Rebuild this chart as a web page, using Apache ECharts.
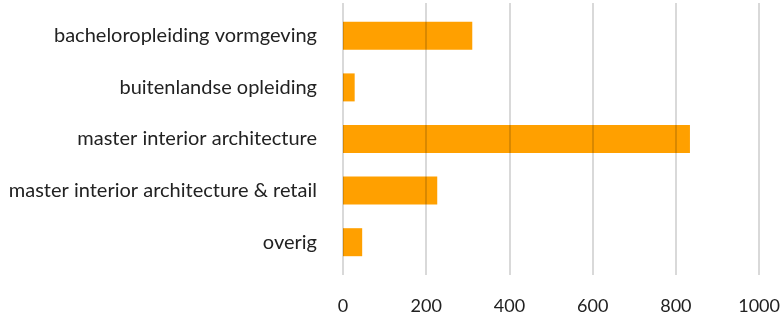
<!DOCTYPE html>
<html><head><meta charset="utf-8">
<script src="https://cdn.jsdelivr.net/npm/echarts@6/dist/echarts.min.js"></script>
<style>html,body{margin:0;padding:0;background:#fff}#c{width:783px;height:320px}</style>
</head><body><div id="c"></div>
<script>
const categories = ["bacheloropleiding vormgeving","buitenlandse opleiding","master interior architecture","master interior architecture & retail","overig"];
const values = [310, 28, 832, 226, 46];
const xTicks = {min: 0, max: 1000, interval: 200};

const chart = echarts.init(document.getElementById('c'));
const font = 'Lato, "Open Sans", sans-serif';
chart.setOption({
  animation: false,
  grid: [
    {left: 343, right: 23, top: 10, bottom: 52},
    {left: 343, right: 23, top: 3, bottom: 45}
  ],
  xAxis: [
    {gridIndex: 0, type: 'value', min: xTicks.min, max: xTicks.max, interval: xTicks.interval,
     axisLine: {show: false}, axisTick: {show: false}, axisLabel: {show: false}, splitLine: {show: false}},
    {gridIndex: 1, type: 'value', min: xTicks.min, max: xTicks.max, interval: xTicks.interval, z: 5,
     axisLine: {show: false}, axisTick: {show: false},
     axisLabel: {show: true, margin: 22, fontFamily: font, fontSize: 18, color: '#222', formatter: v => String(v)},
     splitLine: {show: true, lineStyle: {color: 'rgba(0,0,0,0.2)', width: 1.5}}}
  ],
  yAxis: [
    {gridIndex: 0, type: 'category', data: categories, inverse: true,
     axisLine: {show: false}, axisTick: {show: false},
     axisLabel: {margin: 26, fontFamily: font, fontSize: 20, color: '#222'}},
    {gridIndex: 1, type: 'value', show: false}
  ],
  series: [{
    type: 'bar', xAxisIndex: 0, yAxisIndex: 0, data: values,
    barWidth: 28, itemStyle: {color: '#FFA000'}
  }]
});
</script></body></html>
